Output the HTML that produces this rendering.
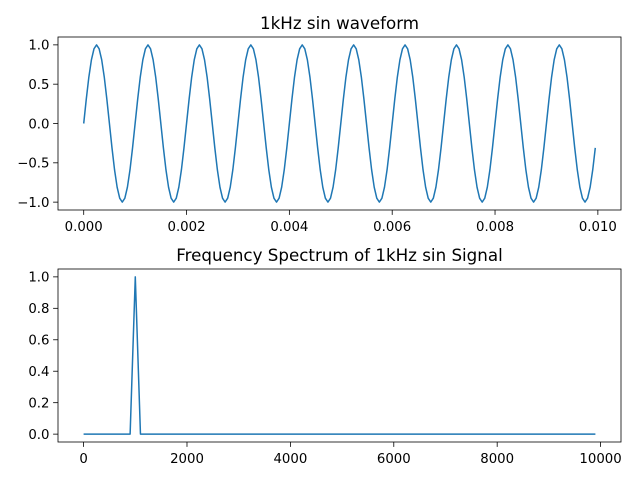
<!DOCTYPE html>
<html><head><meta charset="utf-8"><style>
body{margin:0;background:#fff;}
svg{display:block;font-family:"DejaVu Sans","Liberation Sans",sans-serif;}
</style></head><body>
<svg id="fig" width="640" height="480"></svg>
<script>
const waveValues=[0,0.31,0.59,0.81,0.95,1,0.95,0.81,0.59,0.31,0,-0.31,-0.59,-0.81,-0.95,-1,-0.95,-0.81,-0.59,-0.31,
0,0.31,0.59,0.81,0.95,1,0.95,0.81,0.59,0.31,0,-0.31,-0.59,-0.81,-0.95,-1,-0.95,-0.81,-0.59,-0.31,
0,0.31,0.59,0.81,0.95,1,0.95,0.81,0.59,0.31,0,-0.31,-0.59,-0.81,-0.95,-1,-0.95,-0.81,-0.59,-0.31,
0,0.31,0.59,0.81,0.95,1,0.95,0.81,0.59,0.31,0,-0.31,-0.59,-0.81,-0.95,-1,-0.95,-0.81,-0.59,-0.31,
0,0.31,0.59,0.81,0.95,1,0.95,0.81,0.59,0.31,0,-0.31,-0.59,-0.81,-0.95,-1,-0.95,-0.81,-0.59,-0.31,
0,0.31,0.59,0.81,0.95,1,0.95,0.81,0.59,0.31,0,-0.31,-0.59,-0.81,-0.95,-1,-0.95,-0.81,-0.59,-0.31,
0,0.31,0.59,0.81,0.95,1,0.95,0.81,0.59,0.31,0,-0.31,-0.59,-0.81,-0.95,-1,-0.95,-0.81,-0.59,-0.31,
0,0.31,0.59,0.81,0.95,1,0.95,0.81,0.59,0.31,0,-0.31,-0.59,-0.81,-0.95,-1,-0.95,-0.81,-0.59,-0.31,
0,0.31,0.59,0.81,0.95,1,0.95,0.81,0.59,0.31,0,-0.31,-0.59,-0.81,-0.95,-1,-0.95,-0.81,-0.59,-0.31,
0,0.31,0.59,0.81,0.95,1,0.95,0.81,0.59,0.31,0,-0.31,-0.59,-0.81,-0.95,-1,-0.95,-0.81,-0.59,-0.31];
const sampleStep=0.00005;
const specValues=[0,0,0,0,0,0,0,0,0,0,1,0,0,0,0,0,0,0,0,0,
0,0,0,0,0,0,0,0,0,0,0,0,0,0,0,0,0,0,0,0,
0,0,0,0,0,0,0,0,0,0,0,0,0,0,0,0,0,0,0,0,
0,0,0,0,0,0,0,0,0,0,0,0,0,0,0,0,0,0,0,0,
0,0,0,0,0,0,0,0,0,0,0,0,0,0,0,0,0,0,0,0];
const freqStep=100;
const topXTicks=[0,0.002,0.004,0.006,0.008,0.010];
const topXLabels=["0.000","0.002","0.004","0.006","0.008","0.010"];
const topYTicks=[-1,-0.5,0,0.5,1];
const topYLabels=["−1.0","−0.5","0.0","0.5","1.0"];
const botXTicks=[0,2000,4000,6000,8000,10000];
const botXLabels=["0","2000","4000","6000","8000","10000"];
const botYTicks=[0,0.2,0.4,0.6,0.8,1.0];
const botYLabels=["0.0","0.2","0.4","0.6","0.8","1.0"];

const svg=document.getElementById('fig');
const NS='http://www.w3.org/2000/svg';
function mk(tag,attrs,parent){const e=document.createElementNS(NS,tag);for(const k in attrs)e.setAttribute(k,attrs[k]);(parent||svg).appendChild(e);return e;}

function panel(name,box,xlim,ylim,xs,ys,xt,xl,yt,yl,title){
  const g=mk('g',{});
  
  
  const X=v=>box.x0+(v-xlim[0])/(xlim[1]-xlim[0])*(box.x1-box.x0);
  const Y=v=>box.y1-(v-ylim[0])/(ylim[1]-ylim[0])*(box.y1-box.y0);
  const pts=xs.map((x,i)=>X(x).toFixed(2)+','+Y(ys[i]).toFixed(2)).join(' ');
  const line=mk('polyline',{points:pts,fill:'none',stroke:'#1f77b4','stroke-width':1.5,'stroke-linejoin':'round'},g);
  
  
  const frame=mk('rect',{x:box.x0,y:box.y0,width:box.x1-box.x0,height:box.y1-box.y0,fill:'none',stroke:'#000','stroke-width':0.8},g);
  
  
  xt.forEach((v,i)=>{const x=X(v);
    mk('line',{x1:x,x2:x,y1:box.y1,y2:box.y1+4.9,stroke:'#000','stroke-width':0.8},g);
    const t=mk('text',{x:x,y:box.y1+21,'text-anchor':'middle','font-size':13.3,fill:'#000'},g);t.textContent=xl[i];
    
    });
  yt.forEach((v,i)=>{const y=Y(v);
    mk('line',{x1:box.x0-4.9,x2:box.x0,y1:y,y2:y,stroke:'#000','stroke-width':0.8},g);
    const t=mk('text',{x:box.x0-8.5,y:y+4.8,'text-anchor':'end','font-size':13.3,fill:'#000'},g);t.textContent=yl[i];
    
    });
  const tt=mk('text',{x:(box.x0+box.x1)/2,y:box.y0-8,'text-anchor':'middle','font-size':16.7,fill:'#000'},g);tt.textContent=title;
  
  
}
const tX=waveValues.map((_,i)=>i*sampleStep);
const fX=specValues.map((_,i)=>i*freqStep);
panel('waveform-chart',{x0:58,x1:621,y0:37,y1:210},[-0.0005,0.01045],[-1.1,1.1],tX,waveValues,topXTicks,topXLabels,topYTicks,topYLabels,'1kHz sin waveform');
panel('spectrum-chart',{x0:58,x1:621,y0:269,y1:442},[-495,10395],[-0.05,1.05],fX,specValues,botXTicks,botXLabels,botYTicks,botYLabels,'Frequency Spectrum of 1kHz sin Signal');
</script>
</body></html>
